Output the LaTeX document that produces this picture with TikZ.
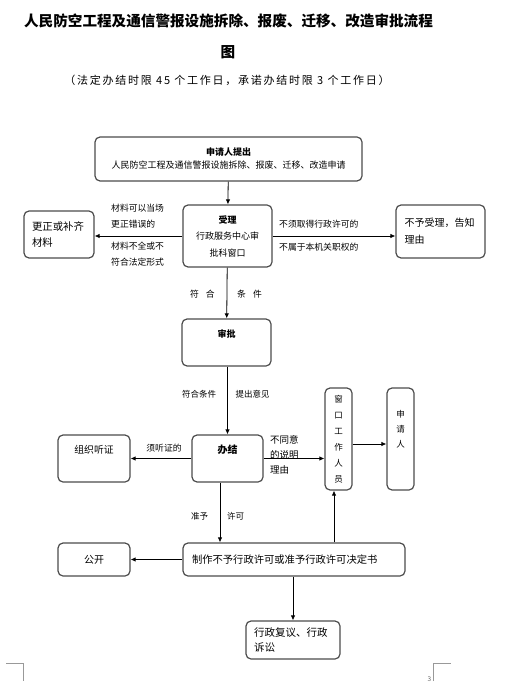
\documentclass[tikz,border=0pt]{standalone}
\usepackage{fontspec}
\setmainfont{Noto Sans CJK SC}
\newfontfamily\espaciada[LetterSpace=16]{Noto Sans CJK SC}
\usetikzlibrary{arrows.meta}

\begin{document}
\begin{tikzpicture}[x=1pt, y=-1pt,
      caja/.style={draw=black!70, line width=1.2pt, rounded corners=5pt,
        inner sep=0pt, align=center, font=\fontsize{9}{16.5}\selectfont},
      etiqueta/.style={inner sep=0pt, align=left, font=\fontsize{8.8}{16}\selectfont},
      flecha/.style={-{Latex[length=5pt,width=4.5pt]}, line width=0.8pt}]
      \useasboundingbox (0,0) rectangle (506,692);

      % Titulo
      \node[font=\fontsize{14.6}{16}\selectfont\bfseries] (titulo) at (228.5,21)
        {人民防空工程及通信警报设施拆除、报废、迁移、改造审批流程};
      \node[font=\fontsize{14.6}{16}\selectfont\bfseries] (titulo2) at (228,52) {图};
      \node[font=\espaciada\fontsize{11}{14}\selectfont] (plazo) at (227,80)
        {（法定办结时限 45 个工作日，承诺办结时限 3 个工作日）};

      % Cajas
      \node[caja, minimum width=267, minimum height=44] (solicitud) at (228.5,159)
        {\textbf{申请人提出}\\[-3.5pt]人民防空工程及通信警报设施拆除、报废、迁移、改造申请};
      \node[caja, minimum width=89, minimum height=62] (acepta) at (227.5,236)
        {\textbf{受理}\\行政服务中心审\\批科窗口};
      \node[caja, minimum width=70, minimum height=47, align=left, text width=54,
        font=\fontsize{10.4}{16}\selectfont] (corrige) at (59,234.5) {更正或补齐\\材料};
      \node[caja, minimum width=89, minimum height=53, align=left, text width=72,
        font=\fontsize{10}{17}\selectfont] (rechaza) at (440.5,231.5) {不予受理，告知\\理由};
      \node[caja, minimum width=89, minimum height=47, text depth=18pt] (aprueba)
        at (226.5,342.5) {\textbf{审批}};
      \node[caja, minimum width=71, minimum height=47, text depth=18pt,
        font=\fontsize{10}{16}\selectfont] (concluye) at (227.5,458.5) {\textbf{办结}};
      \node[caja, minimum width=72, minimum height=47, text depth=18pt,
        font=\fontsize{9.8}{16}\selectfont] (audiencia) at (94,458.5) {组织听证};
      \node[caja, minimum width=27, minimum height=102, font=\fontsize{8.5}{16}\selectfont]
        (ventanilla) at (338.5,439) {窗\\口\\工\\作\\人\\员};
      \node[caja, minimum width=27, minimum height=102, text depth=20pt,
        font=\fontsize{8.5}{15}\selectfont] (solicitante) at (400.5,439) {申\\请\\人};
      \node[caja, minimum width=222, minimum height=33, align=left, text width=204,
        font=\fontsize{10.3}{16}\selectfont] (decision) at (294,559.5)
        {制作不予行政许可或准予行政许可决定书};
      \node[caja, minimum width=72, minimum height=33,
        font=\fontsize{10}{16}\selectfont] (publica) at (94,559.5) {公开};
      \node[caja, minimum width=94, minimum height=38, align=left, text width=78,
        font=\fontsize{10.5}{15}\selectfont] (recurso) at (293,640) {行政复议、行政\\诉讼};

      % Flechas
      \draw[flecha] (solicitud) -- (acepta);
      \draw[flecha] (acepta.west) -- (acepta.west -| corrige.east);
      \draw[flecha] (acepta.east) -- (acepta.east -| rechaza.west);
      \draw[flecha] (acepta) -- (aprueba);
      \draw[flecha] (concluye.north |- aprueba.south) -- (concluye.north);
      \draw[flecha] (concluye) -- (audiencia);
      \draw[flecha] (concluye.east) -- (concluye.east -| ventanilla.west);
      \draw[flecha] ([yshift=-5pt]ventanilla.east) -- ([yshift=-5pt]ventanilla.east -| solicitante.west);
      \draw[flecha] ([xshift=-7.5pt]concluye.south) -- ([xshift=-7.5pt]concluye.south |- decision.north);
      \draw[flecha] ([xshift=-4.5pt]ventanilla.south |- decision.north) -- ([xshift=-4.5pt]ventanilla.south);
      \draw[flecha] (decision) -- (publica);
      \draw[flecha] (recurso.north |- decision.south) -- (recurso);

      % Etiquetas
      \node[etiqueta, anchor=west] (et1) at (111,216) {材料可以当场\\更正错误的};
      \node[etiqueta, anchor=west] (et2) at (111,254) {材料不全或不\\符合法定形式};
      \node[etiqueta, anchor=west] (et3) at (279,224) {不须取得行政许可的};
      \node[etiqueta, anchor=west] (et4) at (279,247) {不属于本机关职权的};
      \node[etiqueta] (et5) at (202.5,294) {符\hspace{7pt}合};
      \node[etiqueta] (et6) at (249.5,294) {条\hspace{7pt}件};
      \node[etiqueta, font=\fontsize{8.5}{16}\selectfont] (et7) at (199,394) {符合条件};
      \node[etiqueta, font=\fontsize{8.5}{16}\selectfont] (et8) at (252.5,394) {提出意见};
      \node[etiqueta] (et9) at (164,448) {须听证的};
      \node[etiqueta, anchor=west, font=\fontsize{9.5}{15}\selectfont] (et10) at (270,455)
        {不同意\\的说明\\理由};
      \node[etiqueta, font=\fontsize{8.5}{16}\selectfont] (et11) at (199.5,516) {准予};
      \node[etiqueta, font=\fontsize{8.5}{16}\selectfont] (et12) at (235.5,516) {许可};

      % Marcas de pagina
      \draw[black!40, line width=0.6pt] (6,663) -- (23,663) -- (23,681);
      \draw[black!40, line width=0.6pt] (433,681) -- (433,663) -- (451,663);
      \node[font=\fontsize{6.5}{8}\selectfont, text=black!60, inner sep=0pt] (pagina)
        at (429.5,679) {3};
    \end{tikzpicture}
\end{document}
